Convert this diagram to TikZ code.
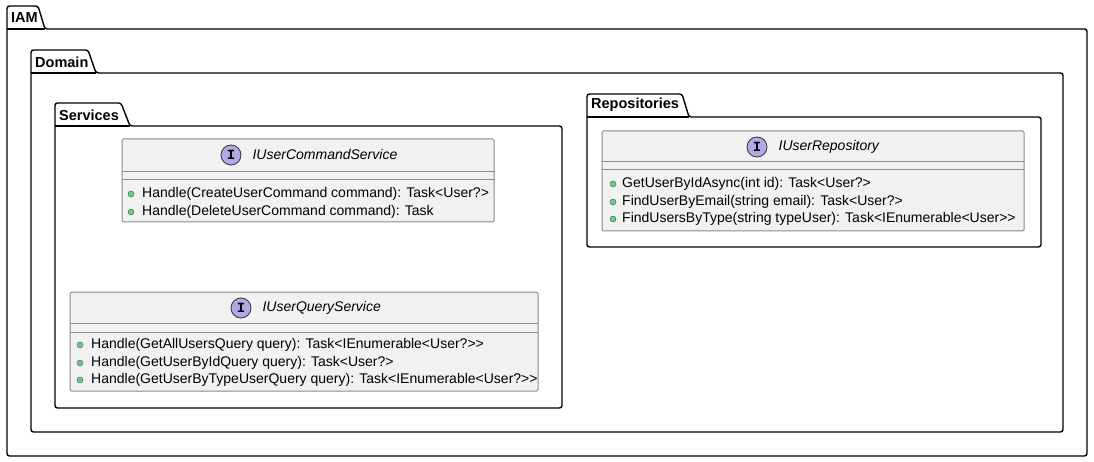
\documentclass[tikz,border=0pt]{standalone}
\usepackage{fontspec}
\setmainfont{Liberation Sans}
\newfontfamily\monofont{Liberation Mono}
\usetikzlibrary{positioning}
\definecolor{clsfill}{HTML}{F1F1F1}
\definecolor{clsline}{HTML}{8A8A8A}
\definecolor{ifacefill}{HTML}{B4A7E5}
\definecolor{dotfill}{HTML}{84BE84}
\definecolor{dotline}{HTML}{038048}

\tikzset{
  pkg/.style={draw=black, line width=1.4pt, rounded corners=2.5pt},
  pkgname/.style={anchor=west, inner sep=0pt, font=\fontsize{14.5}{16}\selectfont\bfseries},
  cls/.style={draw=clsline, fill=clsfill, line width=1pt, rounded corners=1.5pt},
  sepline/.style={draw=clsline, line width=1pt},
  iface/.style={circle, draw=black!80, fill=ifacefill, line width=0.8pt, minimum size=20pt, inner sep=0pt, font=\monofont\fontsize{14}{14}\selectfont\bfseries},
  clsname/.style={anchor=west, inner sep=0pt, font=\fontsize{14}{16}\selectfont\itshape},
  member/.style={anchor=west, inner sep=0pt, font=\fontsize{14}{16}\selectfont},
  bullet/.style={fill=dotfill, draw=dotline, line width=0.4pt}
}

\begin{document}
\begin{tikzpicture}[x=1pt, y=-1pt]
    \useasboundingbox (0,0) rectangle (1094,462);

    % IAM package
    \draw[pkg] (7,29) -- (7,6) -- (38,6) -- (45,29) -- (1087,29) -- (1087,456) -- (7,456) -- cycle;
    \draw[pkg] (7,29) -- (45,29);
    \node[pkgname] (iam) at (11,18) {IAM};

    % Domain package
    \draw[pkg] (31,73) -- (31,50) -- (88,50) -- (96,73) -- (1063,73) -- (1063,432) -- (31,432) -- cycle;
    \draw[pkg] (31,73) -- (96,73);
    \node[pkgname] (domain) at (35,62) {Domain};

    % Services package
    \draw[pkg] (55,126) -- (55,103) -- (121,103) -- (130,126) -- (562,126) -- (562,408) -- (55,408) -- cycle;
    \draw[pkg] (55,126) -- (130,126);
    \node[pkgname] (services) at (59,115) {Services};

    % Repositories package
    \draw[pkg] (587,117) -- (587,94) -- (682,94) -- (689,117) -- (1041,117) -- (1041,247) -- (587,247) -- cycle;
    \draw[pkg] (587,117) -- (689,117);
    \node[pkgname] (repositories) at (591,105) {Repositories};

    % IUserCommandService
    \draw[cls] (122,139) rectangle (494,222);
    \draw[sepline] (122,172) -- (494,172);
    \draw[sepline] (122,180) -- (494,180);
    \node[iface] (cmdicon) at (231,155) {I};
    \node[clsname, right=11pt of cmdicon] (cmdname) {IUserCommandService};
    \fill[bullet] (131,194) circle (3);
    \node[member] (cmd1) at (142,194) {Handle(CreateUserCommand command): Task<User?>};
    \fill[bullet] (131,212) circle (3);
    \node[member] (cmd2) at (142,212) {Handle(DeleteUserCommand command): Task};

    % IUserQueryService
    \draw[cls] (70,292) rectangle (538,391);
    \draw[sepline] (70,323) -- (538,323);
    \draw[sepline] (70,332) -- (538,332);
    \node[iface] (qryicon) at (241,308) {I};
    \node[clsname, right=11pt of qryicon] (qryname) {IUserQueryService};
    \fill[bullet] (80,345) circle (3);
    \node[member] (qry1) at (91,345) {Handle(GetAllUsersQuery query): Task<IEnumerable<User?>{}>};
    \fill[bullet] (80,363) circle (3);
    \node[member] (qry2) at (91,363) {Handle(GetUserByIdQuery query): Task<User?>};
    \fill[bullet] (80,380) circle (3);
    \node[member] (qry3) at (91,380) {Handle(GetUserByTypeUserQuery query): Task<IEnumerable<User?>{}>};

    % IUserRepository
    \draw[cls] (602,131) rectangle (1024,231);
    \draw[sepline] (602,162) -- (1024,162);
    \draw[sepline] (602,170) -- (1024,170);
    \node[iface] (repoicon) at (757,147) {I};
    \node[clsname, right=11pt of repoicon] (reponame) {IUserRepository};
    \fill[bullet] (613,184) circle (3);
    \node[member] (repo1) at (622,184) {GetUserByIdAsync(int id): Task<User?>};
    \fill[bullet] (613,202) circle (3);
    \node[member] (repo2) at (622,202) {FindUserByEmail(string email): Task<User?>};
    \fill[bullet] (613,219) circle (3);
    \node[member] (repo3) at (622,219) {FindUsersByType(string typeUser): Task<IEnumerable<User>{}>};
\end{tikzpicture}
\end{document}
